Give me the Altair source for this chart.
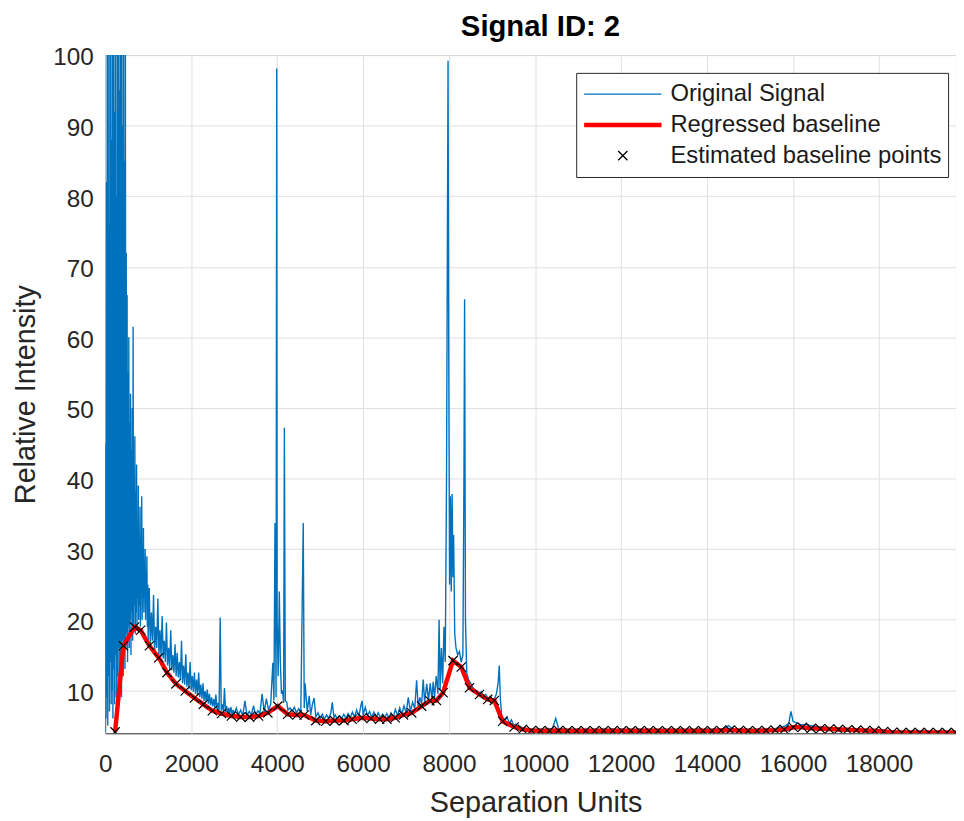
import altair as alt
import pandas as pd

series_names = ["Original Signal", "Regressed baseline", "Estimated baseline points"]
series_colors = ["#0072BD", "#FF0000", "#000000"]
x_ticks = [0, 2000, 4000, 6000, 8000, 10000, 12000, 14000, 16000, 18000]
y_ticks = [10, 20, 30, 40, 50, 60, 70, 80, 90, 100]

# dense noisy start of the signal (x, y)
sig_dense = [
    (0, 4.0), (10, 45), (20, 6), (30, 82), (40, 9), (50, 100), (60, 5), (70, 100), (80, 12), (90, 76),
    (100, 7), (110, 100), (120, 14), (130, 100), (140, 8), (150, 88), (160, 10), (170, 100), (180, 6), (190, 100),
    (200, 13), (210, 92), (220, 8), (230, 100), (240, 15), (250, 100), (260, 9), (270, 80), (280, 12), (290, 100),
    (300, 10), (310, 100), (320, 16), (330, 95), (340, 11), (350, 100), (360, 14), (370, 100), (380, 9), (390, 100),
    (400, 17), (410, 90), (420, 12), (430, 100), (440, 15), (450, 85), (460, 13), (470, 100), (480, 16), (490, 72),
    (500, 18), (510, 66), (520, 14), (530, 55), (540, 19), (550, 60), (560, 16), (570, 48), (580, 20), (590, 52),
    (600, 15), (610, 44), (620, 21), (630, 50), (640, 17), (650, 61.5), (660, 19), (670, 40), (680, 22), (690, 46),
    (700, 18), (710, 38), (720, 21), (730, 42), (740, 19), (750, 34), (760, 23), (770, 39), (780, 20), (790, 31),
    (800, 22), (810, 36), (820, 19), (830, 30), (840, 24), (850, 37.5), (860, 20), (870, 28), (880, 23), (890, 33),
    (900, 21), (910, 27), (920, 24), (930, 30), (940, 20), (950, 26), (960, 23), (970, 29), (980, 19), (990, 25),
]

sig_decay = [
    (1000, 17), (1025, 24.5), (1050, 16.5), (1075, 21), (1100, 17), (1125, 23.5), (1150, 15.5), (1175, 19),
    (1200, 16), (1225, 23), (1250, 15), (1275, 18.5), (1300, 14.8), (1325, 20.5), (1350, 14.5), (1375, 17),
    (1400, 14), (1425, 19.6), (1450, 13.5), (1475, 16), (1500, 13), (1525, 18.5), (1550, 12.8), (1575, 15),
    (1600, 12.5), (1625, 16.5), (1650, 12), (1675, 15.3), (1700, 11.8), (1725, 14), (1750, 11.5), (1775, 17),
    (1800, 11), (1825, 13.5), (1850, 10.8), (1875, 15.1), (1900, 10.5), (1925, 12.5), (1950, 10.2), (1975, 14),
    (2000, 10), (2025, 12), (2050, 9.8), (2075, 12.5), (2100, 9.5), (2125, 11.5), (2150, 9.3), (2175, 12.5),
    (2200, 9), (2225, 10.8), (2250, 8.8), (2275, 11), (2300, 8.5), (2325, 9.9), (2350, 8.4), (2375, 10.1),
    (2400, 8.1), (2425, 9.5), (2450, 7.9), (2475, 9), (2500, 7.7), (2525, 8.8), (2550, 7.5), (2575, 9.4),
    (2600, 7.3), (2625, 8.2), (2650, 7.2), (2675, 20.3), (2700, 7.1), (2725, 8), (2750, 7.0), (2775, 10.3),
    (2800, 6.9), (2825, 7.8), (2850, 6.8), (2875, 7.5), (2900, 6.7), (2925, 7.6), (2950, 6.6), (2975, 7.2),
]

sig_mid = [
    (3000, 6.6), (3050, 7.5), (3100, 6.5), (3150, 7.2), (3200, 6.4), (3250, 8.5), (3300, 6.4), (3350, 7.0),
    (3400, 6.5), (3450, 7.8), (3500, 6.5), (3550, 7.1), (3600, 6.7), (3650, 9.5), (3700, 6.9), (3750, 8.8),
    (3800, 7.2), (3850, 8.0), (3900, 13.9), (3925, 8.5), (3950, 33.7), (3975, 9), (3990, 98.1), (4000, 20),
    (4025, 12), (4050, 24), (4075, 14), (4100, 9.5), (4125, 10), (4150, 8.2), (4168, 47.2), (4190, 8.5),
    (4225, 8.3), (4250, 7.2), (4300, 7.5), (4350, 7.0), (4400, 7.6), (4450, 6.8), (4500, 7.4), (4550, 6.9),
    (4607, 33.7), (4630, 7.5), (4650, 11), (4700, 7.0), (4745, 9.2), (4780, 6.5), (4820, 8.0), (4860, 8.9),
    (4900, 6.2), (4950, 6.8), (5000, 6.0), (5050, 6.6), (5100, 5.9), (5150, 6.5), (5200, 6.0), (5250, 6.8),
    (5283, 8.3), (5320, 6.1), (5350, 6.5), (5400, 5.9), (5450, 6.4), (5500, 6.0), (5550, 6.6), (5600, 6.0),
    (5650, 6.7), (5700, 6.1), (5750, 6.9), (5800, 6.2), (5850, 7.2), (5900, 6.3), (5950, 7.9), (5975, 8.5),
    (6000, 6.5), (6050, 7.6), (6100, 6.4), (6150, 7.0), (6200, 6.2), (6250, 6.9), (6300, 6.1), (6350, 6.8),
    (6400, 6.1), (6450, 6.6), (6500, 6.0), (6550, 6.7), (6600, 6.1), (6650, 6.8), (6700, 6.2), (6750, 7.3),
    (6800, 6.4), (6850, 7.5), (6900, 6.6), (6950, 7.8), (7000, 6.8), (7050, 9.0), (7100, 7.0), (7150, 8.3),
    (7200, 7.4), (7244, 11.4), (7280, 7.7), (7320, 9.0), (7360, 8.0), (7398, 11.5), (7430, 8.3), (7480, 10.9),
    (7520, 8.5), (7560, 11.0), (7600, 8.7), (7629, 11.2), (7660, 8.9), (7700, 12.0), (7740, 9.5), (7767, 20.0),
    (7790, 10.0), (7820, 16.0), (7850, 11.0), (7880, 19.0), (7910, 14.0), (7940, 40.0), (7960, 74.0), (7975, 99.2),
    (7990, 60.0), (8010, 25.0), (8030, 37.5), (8050, 24.0), (8070, 37.8), (8090, 26.0), (8105, 32.0), (8130, 18.0),
    (8160, 16.0), (8200, 15.0), (8240, 15.5), (8280, 14.0), (8320, 15.0), (8345, 40.0), (8360, 65.4), (8380, 20.0),
    (8410, 12.5), (8450, 11.5), (8500, 11.0), (8550, 10.4), (8600, 10.0), (8650, 9.9), (8700, 9.6), (8750, 9.8),
    (8800, 9.2), (8850, 9.4), (8900, 8.9), (8950, 9.0), (9000, 8.8), (9050, 8.7), (9100, 9.5), (9140, 11.0),
    (9166, 13.5), (9190, 9.0), (9220, 6.5), (9260, 6.0), (9300, 5.7), (9350, 6.2), (9400, 5.3), (9450, 5.8),
    (9500, 5.0), (9550, 5.2), (9600, 4.8), (9650, 4.9), (9700, 4.6), (9750, 4.7), (9800, 4.5), (9850, 4.6),
    (9900, 4.4), (9950, 4.5),
]

sig_tail = [
    (10000, 4.4), (10100, 4.5), (10200, 4.4), (10300, 4.6), (10400, 4.5), (10480, 6.0), (10550, 4.5), (10600, 4.6),
    (10700, 4.4), (10800, 4.5), (10900, 4.4), (11000, 4.5), (11100, 4.4), (11200, 4.5), (11300, 4.4), (11400, 4.5),
    (11500, 4.4), (11600, 4.5), (11700, 4.4), (11800, 4.5), (11900, 4.4), (12000, 4.5), (12100, 4.4), (12200, 4.5),
    (12300, 4.4), (12400, 4.5), (12500, 4.4), (12600, 4.5), (12700, 4.4), (12800, 4.5), (12900, 4.4), (13000, 4.5),
    (13100, 4.4), (13200, 4.5), (13300, 4.4), (13400, 4.5), (13500, 4.4), (13600, 4.5), (13700, 4.4), (13800, 4.5),
    (13900, 4.4), (14000, 4.5), (14100, 4.4), (14200, 4.5), (14300, 4.4), (14400, 4.6), (14500, 5.0), (14600, 4.5),
    (14700, 4.4), (14800, 4.5), (14900, 4.4), (15000, 4.5), (15100, 4.4), (15200, 4.5), (15300, 4.4), (15400, 4.5),
    (15500, 4.5), (15600, 4.6), (15700, 4.7), (15800, 4.9), (15900, 5.3), (15950, 7.0), (16000, 5.6), (16100, 5.3),
    (16200, 5.1), (16300, 5.2), (16400, 5.0), (16500, 4.9), (16600, 4.8), (16700, 4.8), (16800, 4.7), (16900, 4.7),
    (17000, 4.6), (17100, 4.6), (17200, 4.6), (17300, 4.5), (17400, 4.5), (17500, 4.5), (17600, 4.4), (17700, 4.4),
    (17800, 4.4), (17900, 4.3), (18000, 4.3), (18100, 4.2), (18200, 4.2), (18300, 4.1), (18400, 4.1), (18500, 4.1),
    (18600, 4.05), (18700, 4.1), (18800, 4.05), (18900, 4.1), (19000, 4.05), (19100, 4.1), (19200, 4.05),
    (19300, 4.1), (19400, 4.05), (19500, 4.1), (19600, 4.05), (19700, 4.1), (19800, 4.05),
]

# estimated baseline points (x, y)
base_pts = [
    (231, 4.1), (424, 16.3), (684, 18.95), (823, 18.5), (1030, 16.3), (1246, 14.6), (1438, 12.5), (1646, 10.9),
    (1861, 9.9), (2076, 8.9), (2284, 8.0), (2492, 7.1), (2707, 6.7), (2937, 6.35), (3153, 6.2), (3360, 6.2),
    (3568, 6.35), (3783, 6.8), (4014, 7.75), (4245, 6.6), (4460, 6.5), (4630, 6.5), (4898, 5.7), (5129, 5.6),
    (5337, 5.7), (5552, 5.7), (5744, 5.9), (5975, 6.1), (6183, 6.0), (6383, 5.9), (6552, 5.9), (6744, 6.1),
    (6937, 6.5), (7129, 6.8), (7359, 7.75), (7551, 8.5), (7705, 8.55), (7859, 9.65), (8090, 14.2), (8282, 13.3),
    (8474, 10.35), (8705, 9.4), (8897, 8.7), (9051, 8.55), (9244, 5.6), (9512, 4.8), (9705, 4.45), (9915, 4.3),
    (10125, 4.25), (10335, 4.25), (10545, 4.3), (10755, 4.25), (10965, 4.25), (11175, 4.25), (11385, 4.25),
    (11595, 4.25), (11805, 4.25), (12015, 4.25), (12225, 4.25), (12435, 4.25), (12645, 4.25), (12855, 4.25),
    (13065, 4.25), (13275, 4.25), (13485, 4.25), (13695, 4.25), (13905, 4.25), (14115, 4.25), (14325, 4.3),
    (14535, 4.35), (14745, 4.3), (14955, 4.25), (15165, 4.25), (15375, 4.3), (15585, 4.35), (15795, 4.45),
    (16005, 4.75), (16215, 4.75), (16425, 4.6), (16635, 4.55), (16845, 4.5), (17055, 4.45), (17265, 4.4),
    (17475, 4.35), (17685, 4.3), (17895, 4.25), (18105, 4.15), (18315, 4.05), (18525, 4.0), (18735, 4.0),
    (18945, 4.0), (19155, 4.0), (19365, 4.0), (19575, 4.0), (19785, 4.0),
]

FONT = "Liberation Sans"
AX = "#262626"
SYM = 6084  # symbol area: a 78 px legend line
XPATH = "M-0.12,-0.12L0.12,0.12M-0.12,0.12L0.12,-0.12"  # small x at that symbol area

signal = sig_dense + sig_decay + sig_mid + sig_tail
sig_df = pd.DataFrame(signal, columns=["x", "y"])
sig_df["series"] = series_names[0]
line_df = pd.DataFrame(base_pts, columns=["x", "y"])
line_df["series"] = series_names[1]
pts_df = pd.DataFrame(base_pts, columns=["x", "y"])
pts_df["series"] = series_names[2]

xscale = alt.Scale(domain=[0, 19790], nice=False, zero=False)
yscale = alt.Scale(domain=[3.9, 100], nice=False, zero=False)

legend = alt.Legend(
    title=None, orient="none", legendX=475, legendY=18, direction="vertical",
    fillColor="white", strokeColor=AX, padding=6, cornerRadius=0,
    symbolType="stroke", symbolSize=SYM, clipHeight=31, rowPadding=0,
    symbolStrokeWidth=alt.ExprRef(expr="datum.value === 'Regressed baseline' ? 4.5 : 1.3"),
    labelFont=FONT, labelFontSize=24, labelColor="#1a1a1a",
    labelOffset=36, labelLimit=0, symbolOffset=29,
)

color = alt.Color("series:N", scale=alt.Scale(domain=series_names, range=series_colors), legend=legend)
shape = alt.Shape("series:N", scale=alt.Scale(domain=series_names, range=["stroke", "stroke", XPATH]), legend=legend)

xaxis = alt.Axis(
    values=x_ticks, format="d", title="Separation Units", grid=True, gridColor="#dfdfdf",
    ticks=False, tickSize=0, domain=False, labelFlush=False, labelOverlap=False,
    labelPadding=20, labelFont=FONT, labelFontSize=24.5, labelColor=AX,
    titleFont=FONT, titleFontSize=29, titleFontWeight="normal", titleColor=AX,
    titleX=434, titleY=79, titleBaseline="alphabetic", titleAlign="center",
)
yaxis = alt.Axis(
    values=y_ticks, title="Relative Intensity", grid=True, gridColor="#dfdfdf",
    ticks=False, tickSize=0, domain=False, labelOverlap=False, labelFlush=False,
    labelPadding=12, labelOffset=3, labelFont=FONT, labelFontSize=24.5, labelColor=AX,
    titleFont=FONT, titleFontSize=29, titleFontWeight="normal", titleColor=AX,
    titleX=-71, titleY=342, titleAngle=-90, titleBaseline="alphabetic", titleAlign="center",
)

sig_layer = alt.Chart(sig_df).mark_line(strokeWidth=1.4, clip=True).encode(
    x=alt.X("x:Q", scale=xscale, axis=xaxis),
    y=alt.Y("y:Q", scale=yscale, axis=yaxis),
    color=color,
)
line_layer = alt.Chart(line_df).mark_line(strokeWidth=4.5, clip=True).encode(
    x=alt.X("x:Q", scale=xscale), y=alt.Y("y:Q", scale=yscale), color=color,
)
pts_layer = alt.Chart(pts_df).mark_point(
    filled=False, opacity=1, size=SYM, strokeWidth=1.2, clip=True
).encode(
    x=alt.X("x:Q", scale=xscale), y=alt.Y("y:Q", scale=yscale),
    color=color, shape=shape,
)

chart = alt.layer(sig_layer, line_layer, pts_layer).properties(
    width=858, height=684,
    autosize=alt.AutoSizeParams(type="none"),
    padding={"left": 98, "top": 44, "right": 0, "bottom": 84},
    background="white",
    title=alt.TitleParams(
        "Signal ID: 2", font=FONT, fontSize=29.5, fontWeight="bold", color="black",
        anchor="middle", dx=10, dy=30, offset=10, baseline="alphabetic",
    ),
).configure_view(stroke=AX, strokeWidth=1)

chart.save("out.html", embed_options={"renderer": "svg", "actions": False})
